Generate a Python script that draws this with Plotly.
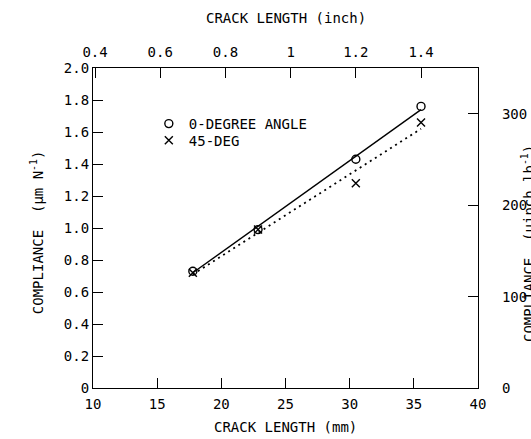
import plotly.graph_objects as go

# ---- data ----
crack_mm = [17.78, 22.86, 30.48, 35.56]
comp_0deg = [0.73, 0.99, 1.43, 1.76]
comp_45deg = [0.72, 0.99, 1.28, 1.66]

fit_x = [17.78, 35.56]
fit_0deg = [0.72, 1.74]
fit_45deg = [0.71, 1.62]

x_ticks_mm = [10, 15, 20, 25, 30, 35, 40]
y_ticks = [0, 0.2, 0.4, 0.6, 0.8, 1.0, 1.2, 1.4, 1.6, 1.8, 2.0]
y_ticktext = ["0", "0.2", "0.4", "0.6", "0.8", "1.0", "1.2", "1.4", "1.6", "1.8", "2.0"]
x_ticks_inch = [0.4, 0.6, 0.8, 1.0, 1.2, 1.4]
x_ticktext_inch = ["0.4", "0.6", "0.8", "1", "1.2", "1.4"]
y_ticks_uin = [0, 100, 200, 300]

MM_PER_INCH = 25.4
UIN_LB_PER_UM_N = 175.127

FONT = "DejaVu Sans Mono"
W, H = 531, 439
L, R, T, B = 93, 53, 68, 51

fig = go.Figure()

fig.add_trace(go.Scatter(x=fit_x, y=fit_0deg, mode="lines",
                         line=dict(color="black", width=1.4),
                         showlegend=False, hoverinfo="skip"))
fig.add_trace(go.Scatter(x=fit_x, y=fit_45deg, mode="lines",
                         line=dict(color="black", width=1.8, dash="2px,4px"),
                         showlegend=False, hoverinfo="skip"))
fig.add_trace(go.Scatter(x=crack_mm, y=comp_0deg, mode="markers", name="0-DEGREE ANGLE",
                         legend="legend",
                         marker=dict(symbol="circle-open", size=8, color="black",
                                     line=dict(width=1.4, color="black"))))
fig.add_trace(go.Scatter(x=crack_mm, y=comp_45deg, mode="markers", name="45-DEG",
                         legend="legend2",
                         marker=dict(symbol="x-thin-open", size=8, color="black",
                                     line=dict(width=1.4, color="black"))))
# invisible trace on the secondary (inch / uin-per-lb) axes
fig.add_trace(go.Scatter(x=[v / MM_PER_INCH for v in fit_x],
                         y=[v * UIN_LB_PER_UM_N for v in fit_0deg],
                         xaxis="x2", yaxis="y2", mode="lines",
                         line=dict(color="rgba(0,0,0,0)"),
                         showlegend=False, hoverinfo="skip"))

axis_common = dict(showgrid=False, zeroline=False, showline=True, linecolor="black",
                   linewidth=1.2, ticks="inside", ticklen=10, tickwidth=1.2,
                   tickcolor="black", tickfont=dict(family=FONT, size=14, color="black"))

legend_common = dict(xanchor="left", yanchor="middle", bgcolor="rgba(0,0,0,0)",
                     font=dict(family=FONT, size=14, color="black"), itemwidth=30)

fig.update_layout(
    width=W, height=H,
    margin=dict(l=L, r=R, t=T, b=B, autoexpand=False),
    paper_bgcolor="white", plot_bgcolor="white",
    font=dict(family=FONT, size=14, color="black"),
    xaxis=dict(range=[10, 40], tickvals=x_ticks_mm, ticklabelstandoff=3, **axis_common),
    yaxis=dict(range=[0, 2.0], tickvals=y_ticks, ticktext=y_ticktext, **axis_common),
    xaxis2=dict(range=[10 / MM_PER_INCH, 40 / MM_PER_INCH], overlaying="x", side="top",
                tickvals=x_ticks_inch, ticktext=x_ticktext_inch, anchor="y",
                ticklabelstandoff=4, **axis_common),
    yaxis2=dict(range=[0, 2.0 * UIN_LB_PER_UM_N], overlaying="y", side="right",
                tickvals=y_ticks_uin, anchor="x", ticklabelstandoff=20, **axis_common),
    legend=dict(x=0.145, y=0.825, **legend_common),
    legend2=dict(x=0.145, y=0.773, **legend_common),
    showlegend=True,
)

annots = [
    dict(text="CRACK LENGTH (mm)", x=0.5, y=-0.122),
    dict(text="CRACK LENGTH (inch)", x=0.5, y=1.156),
    dict(text="COMPLIANCE  (\u03bcm N<sup>-1</sup>)", x=-0.145, y=0.4875, textangle=-90),
    dict(text="COMPLIANCE  (\u03bcinch lb<sup>-1</sup>)", x=1.13, y=0.45, textangle=-90),
]
for a in annots:
    fig.add_annotation(xref="paper", yref="paper", showarrow=False,
                       xanchor="center", yanchor="middle",
                       font=dict(family=FONT, size=14, color="black"), **a)

fig.write_html(
    "out.html",
    config={"displayModeBar": False},
    post_script="document.body.style.margin='0';document.body.style.overflow='hidden';",
)
